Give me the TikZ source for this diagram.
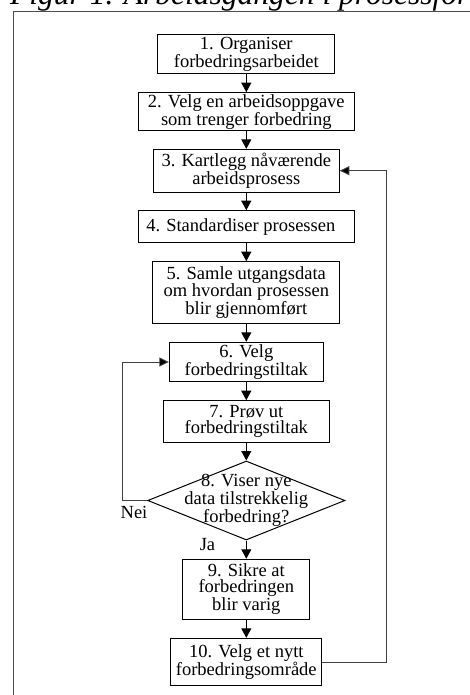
\documentclass[tikz,border=0pt]{standalone}
\usepackage{fontspec}
\setmainfont{Liberation Serif}
\usetikzlibrary{arrows.meta,shapes.geometric}
\begin{document}
\begin{tikzpicture}[x=1pt,y=-1pt,
  box/.style={draw=black, line width=1pt, align=center, inner sep=0pt,
    font=\fontsize{18.5}{16}\selectfont},
  txt/.style={align=center, inner sep=0pt, font=\fontsize{18.5}{16}\selectfont},
  arr/.style={draw=black, line width=1pt, -{Triangle[length=9.5pt,width=10pt]}},
  loop/.style={draw=black!75, line width=0.9pt, -{Triangle[length=9.5pt,width=9pt,fill=black]}},
  frame/.style={draw=black!70, line width=0.9pt}]
\useasboundingbox (0,0) rectangle (470,695);
\clip (0,0) rectangle (470,695);
\node[anchor=base west, inner sep=0pt, font=\fontsize{31.5}{31.5}\selectfont\itshape] (title) at (10,4.5) {Figur 1. Arbeidsgangen i prosessforbedring};
\draw[frame] (13,705) -- (13,11) -- (480,11);

\node[box, minimum width=177.3pt, minimum height=39.4pt] (b1) at (246.3,54) {1. Organiser\\forbedringsarbeidet};
\node[box, minimum width=215.7pt, minimum height=38pt] (b2) at (246.3,111.7) {2. Velg en arbeidsoppgave\\som trenger forbedring};
\node[box, minimum width=186pt, minimum height=42.7pt] (b3) at (246.3,170.7) {3. Kartlegg nåværende\\arbeidsprosess};
\node[box, minimum width=216pt, minimum height=32pt] (b4) at (246.3,226.7) {4. Standardiser prosessen\hspace*{11pt}};
\node[box, minimum width=187.3pt, minimum height=61.6pt] (b5) at (246.3,292.5) {5. Samle utgangsdata\\om hvordan prosessen\\blir gjennomført};
\node[box, minimum width=154pt, minimum height=39.4pt] (b6) at (246.3,362) {6. Velg\\forbedringstiltak};
\node[box, minimum width=166pt, minimum height=42pt] (b7) at (246.3,421.7) {7. Prøv ut\\forbedringstiltak};
\node[diamond, draw=black, line width=1pt, inner sep=0pt, minimum width=197.3pt, minimum height=79pt] (d8) at (246.3,500.5) {};
\node[txt] (t8) at (246.3,500) {8. Viser nye\\data tilstrekkelig\\forbedring?};
\node[box, minimum width=127.3pt, minimum height=60pt] (b9) at (246.3,589.3) {9. Sikre at\\forbedringen\\blir varig};
\node[box, minimum width=150.7pt, minimum height=47.4pt] (b10) at (246.3,662) {10. Velg et nytt\\forbedringsområde};

\draw[arr] (b1) -- (b2);
\draw[arr] (b2) -- (b3);
\draw[arr] (b3) -- (b4);
\draw[arr] (b4) -- (b5);
\draw[arr] (b5) -- (b6);
\draw[arr] (b6) -- (b7);
\draw[arr] (b7) -- (d8.north);
\draw[arr] (d8.south) -- (b9);
\draw[arr] (b9) -- (b10);

\draw[loop] (b10.east) -- ++(64,0) |- (b3.east);
\draw[loop] (d8.west) -- ++(-24.4,0) |- (b6.west);

\node[txt] (nei) at (134,512) {Nei};
\node[txt] (ja) at (207.5,545) {Ja};
\end{tikzpicture}
\end{document}
